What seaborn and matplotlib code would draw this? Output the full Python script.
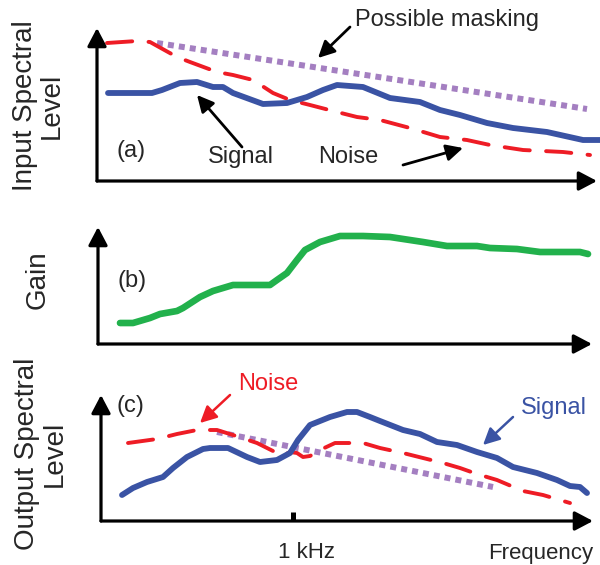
import numpy as np
import pandas as pd
import seaborn as sns
import matplotlib
matplotlib.use("Agg")
import matplotlib.pyplot as plt
from matplotlib.patches import ArrowStyle

sns.set_theme(style="white")
plt.rcParams["font.family"] = ["Liberation Sans", "DejaVu Sans"]

BLUE = "#3A53A4"
RED = "#EE1C25"
PURPLE = "#A47FC1"
GREEN = "#22B14C"

# ---- (a) input spectra -------------------------------------------------
a_sig_x = [11, 55, 65, 83, 100, 116, 126, 136, 166, 190, 210, 226, 240, 266,
           293, 323, 343, 363, 390, 416, 450, 486, 503]
a_sig_y = [88, 88, 91, 98, 99, 94, 94, 88, 77, 78, 84, 91, 96, 94,
           83, 79, 71, 66, 58, 53, 49, 41, 41]
a_noise_x = [10, 40, 53, 80, 93, 120, 136, 156, 176, 193, 213, 240, 260, 283,
             313, 343, 370, 393, 426, 466, 493]
a_noise_y = [138, 140, 139, 124, 119, 109, 106, 101, 88, 81, 76, 69, 64, 61,
             53, 44, 41, 36, 31, 29, 26]
a_mask_x = [60, 490]
a_mask_y = [138, 72]

# ---- (b) gain ------------------------------------------------------------
b_gain_x = [23, 36, 53, 63, 80, 86, 103, 116, 136, 173, 180, 190, 200, 208,
            223, 243, 266, 293, 326, 350, 380, 393, 420, 443, 483, 491]
b_gain_y = [21, 21, 26, 30, 33, 36, 47, 53, 59, 59, 64, 71, 84, 94,
            102, 108, 108, 107, 102, 98, 98, 96, 95, 92, 92, 90]

# ---- (c) output spectra --------------------------------------------------
c_sig_x = [25, 36, 50, 66, 76, 90, 106, 113, 131, 150, 163, 180, 193, 201,
           213, 233, 250, 260, 273, 283, 306, 323, 340, 360, 380, 400, 416,
           440, 460, 473, 483, 490]
c_sig_y = [26, 33, 39, 44, 53, 64, 72, 73, 73, 64, 59, 61, 68, 81,
           96, 104, 109, 109, 104, 100, 91, 87, 79, 76, 69, 63, 54,
           48, 41, 35, 34, 28]
c_noise_x = [31, 60, 80, 100, 120, 136, 160, 176, 185, 193, 200, 206, 213,
             223, 238, 266, 283, 306, 326, 346, 363, 380, 400, 426, 446, 473]
c_noise_y = [78, 82, 87, 91, 91, 86, 78, 70, 65, 69, 68, 64, 65,
             71, 78, 78, 73, 68, 63, 58, 53, 47, 41, 30, 26, 18]
c_mask_x = [120, 396]
c_mask_y = [89, 34]
khz_x = 196

W, H = 600, 565
fig = plt.figure(figsize=(6.0, 5.65), dpi=100)


def make_axes(left, right, bottom, top):
    # frame given in pixels: x axis origin at left, tip at right
    ax = fig.add_axes([left / W, 1 - bottom / H, (right - left) / W, (bottom - top) / H])
    ax.set_xlim(left - 97, right - 97)
    ax.set_ylim(0, bottom - top)
    ax.axis("off")
    head = ArrowStyle("-|>", head_length=11, head_width=5.8)
    kw = dict(arrowstyle=head, mutation_scale=1, color="black", lw=2.3,
              shrinkA=0, shrinkB=0)
    ax.annotate("", xy=(0, 1), xytext=(0, 0), xycoords="axes fraction",
                arrowprops=kw, annotation_clip=False)
    ax.annotate("", xy=(1, 0), xytext=(0, 0), xycoords="axes fraction",
                arrowprops=kw, annotation_clip=False)
    return ax


def curve(ax, xs, ys, color, lw, style="-", cap="round"):
    df = pd.DataFrame({"x": xs, "y": ys})
    sns.lineplot(data=df, x="x", y="y", ax=ax, color=color, lw=lw,
                 linestyle=style, solid_capstyle=cap, dash_capstyle=cap,
                 solid_joinstyle="round", clip_on=False)
    ax.set_xlabel("")
    ax.set_ylabel("")


def pointer(ax, head, tail, color="black", lw=2.0):
    style = ArrowStyle("-|>", head_length=10, head_width=5)
    ax.annotate("", xy=head, xytext=tail,
                arrowprops=dict(arrowstyle=style, mutation_scale=1, color=color,
                                lw=lw, shrinkA=0, shrinkB=0),
                annotation_clip=False)


DASH = (0, (6.5, 4.2))
DOT = (0, (1, 0.85))
FS = 17

# (a)
ax_a = make_axes(97, 597, 181, 28)
curve(ax_a, a_mask_x, a_mask_y, PURPLE, 4.3, DOT, cap="butt")
curve(ax_a, a_noise_x, a_noise_y, RED, 2.8, DASH)
curve(ax_a, a_sig_x, a_sig_y, BLUE, 4.2)
ax_a.text(350, 161, "Possible masking", fontsize=FS, ha="center", va="center")
pointer(ax_a, (221, 123), (253, 154))
ax_a.text(144, 24, "Signal", fontsize=FS, ha="center", va="center")
pointer(ax_a, (100, 86), (145, 34))
ax_a.text(251, 24, "Noise", fontsize=FS, ha="center", va="center")
pointer(ax_a, (366, 33), (306, 16))
ax_a.text(34, 30, "(a)", fontsize=FS, ha="center", va="center")

# (b)
ax_b = make_axes(98, 592, 344, 227)
curve(ax_b, b_gain_x, b_gain_y, GREEN, 4.8)
ax_b.text(35, 63, "(b)", fontsize=FS, ha="center", va="center")

# (c)
ax_c = make_axes(101, 593, 521, 395)
curve(ax_c, c_mask_x, c_mask_y, PURPLE, 4.3, DOT, cap="butt")
curve(ax_c, c_noise_x, c_noise_y, RED, 2.8, DASH)
curve(ax_c, c_sig_x, c_sig_y, BLUE, 4.2)
ax_c.text(33, 115, "(c)", fontsize=FS, ha="center", va="center")
ax_c.text(171, 137, "Noise", fontsize=FS, color=RED, ha="center", va="center")
pointer(ax_c, (103, 98), (133, 126), color=RED, lw=1.8)
ax_c.text(457, 113, "Signal", fontsize=FS, color=BLUE, ha="center", va="center")
pointer(ax_c, (386, 76), (416, 104), color=BLUE, lw=1.8)
ax_c.plot([khz_x, khz_x], [0, 9], color="black", lw=3.6, solid_capstyle="butt",
          clip_on=False)
ax_c.text(khz_x + 14, -32, "1 kHz", fontsize=16, ha="center", va="center")
ax_c.text(496, -32, "Frequency", fontsize=16, ha="right", va="center")

# y-axis titles
fig.text(38 / W, 1 - 106 / H, "Input Spectral\nLevel", fontsize=20,
         rotation=90, ha="center", va="center", linespacing=1.05)
fig.text(38 / W, 1 - 280 / H, "Gain", fontsize=20, rotation=90,
         ha="center", va="center")
fig.text(41 / W, 1 - 454 / H, "Output Spectral\nLevel", fontsize=20,
         rotation=90, ha="center", va="center", linespacing=1.05)

fig.savefig("out.png", dpi=100)
